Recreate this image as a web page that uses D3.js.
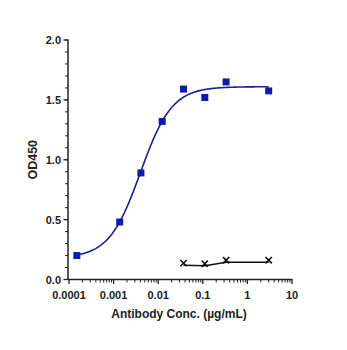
<!DOCTYPE html>
<html>
<head>
<meta charset="utf-8">
<script src="https://cdn.jsdelivr.net/npm/d3@7"></script>
<style>
  body { margin: 0; background: #fff; }
  svg { display: block; }
  text { font-family: "Liberation Sans", Arial, sans-serif; font-weight: bold; fill: #222; }
</style>
</head>
<body>
<div id="chart"></div>
<script>
// concentrations (ug/mL) and OD450 readings
var concBlue = [0.00015, 0.00137, 0.0041, 0.0123, 0.037, 0.111, 0.333, 3];
var odBlue = [0.20, 0.48, 0.89, 1.32, 1.59, 1.52, 1.65, 1.575];
var concBlack = [0.037, 0.111, 0.333, 3];
var odBlack = [0.12, 0.115, 0.145, 0.145];
// 4PL fit for the blue series: bottom, top, EC50, hill
var fitParams = [0.18, 1.61, 0.00401, 1.23];
var xTicks = [0.0001, 0.001, 0.01, 0.1, 1, 10];
var xTickLabels = ["0.0001", "0.001", "0.01", "0.1", "1", "10"];
var yTicks = [0, 0.5, 1.0, 1.5, 2.0];

var width = 347,
	height = 350,
	BLUE = "#0c1ea6",
	LINE_BLUE = "#1a1f8f";

var svg = d3.select("#chart").append("svg")
	.attr("width", width)
	.attr("height", height);

var x = d3.scaleLog().domain([0.0001, 10]).range([69, 292]);
var y = d3.scaleLinear().domain([0, 2]).range([279.5, 40]);

// axes
var xAxis = svg.append("g").attr("transform", "translate(0," + y(0) + ")");
var minor = [];
xTicks.slice(0, -1).forEach(function(t) {
	for (var k = 2; k <= 9; k++) minor.push(t * k);
});
xAxis.selectAll(".minor").data(minor).enter().append("line")
	.attr("x1", function(d) { return x(d); })
	.attr("x2", function(d) { return x(d); })
	.attr("y1", 0).attr("y2", 3)
	.style("stroke", "#222").style("stroke-width", 1);
xAxis.selectAll(".major").data(xTicks).enter().append("line")
	.attr("x1", function(d) { return x(d); })
	.attr("x2", function(d) { return x(d); })
	.attr("y1", 0).attr("y2", 4.5)
	.style("stroke", "#222").style("stroke-width", 1.3);
xAxis.append("line")
	.attr("x1", 68).attr("x2", x(10) + 0.5)
	.style("stroke", "#222").style("stroke-width", 1.5);
xAxis.selectAll("text").data(xTicks).enter().append("text")
	.attr("x", function(d) { return x(d); })
	.attr("y", 19)
	.attr("text-anchor", "middle")
	.style("font-size", "11px")
	.text(function(d, i) { return xTickLabels[i]; });

var yAxis = svg.append("g").attr("transform", "translate(68,0)");
yAxis.selectAll(".minor").data(d3.range(0, 21)).enter().append("line")
	.attr("x1", -3).attr("x2", 0)
	.attr("y1", function(d) { return y(d / 10); })
	.attr("y2", function(d) { return y(d / 10); })
	.style("stroke", "#222").style("stroke-width", 1);
yAxis.selectAll(".major").data(yTicks).enter().append("line")
	.attr("x1", -4.5).attr("x2", 0)
	.attr("y1", function(d) { return y(d); })
	.attr("y2", function(d) { return y(d); })
	.style("stroke", "#222").style("stroke-width", 1.3);
yAxis.append("line")
	.attr("y1", y(2) - 0.5).attr("y2", y(0))
	.style("stroke", "#222").style("stroke-width", 1.5);
yAxis.selectAll("text").data(yTicks).enter().append("text")
	.attr("x", -7)
	.attr("y", function(d) { return y(d) + 4; })
	.attr("text-anchor", "end")
	.style("font-size", "11px")
	.text(function(d) { return d.toFixed(1); });

// axis titles
svg.append("text")
	.attr("x", 179).attr("y", 318)
	.attr("text-anchor", "middle")
	.style("font-size", "12px")
	.text("Antibody Conc. (\u00b5g/mL)");
svg.append("text")
	.attr("transform", "translate(37," + y(1) + ") rotate(-90)")
	.attr("text-anchor", "middle")
	.style("font-size", "12.5px")
	.text("OD450");

// fitted curve
var fit = function(c) {
	return fitParams[0] + (fitParams[1] - fitParams[0]) / (1 + Math.pow(fitParams[2] / c, fitParams[3]));
};
var lo = Math.log10(concBlue[0]), hi = Math.log10(concBlue[concBlue.length - 1]);
var curve = d3.range(0, 201).map(function(i) {
	var c = Math.pow(10, lo + (hi - lo) * i / 200);
	return [c, fit(c)];
});
var line = d3.line()
	.x(function(d) { return x(d[0]); })
	.y(function(d) { return y(d[1]); });

svg.append("path")
	.attr("d", line(curve))
	.style("fill", "none")
	.style("stroke", LINE_BLUE)
	.style("stroke-width", 1.6);

svg.selectAll(".sq").data(concBlue).enter().append("rect")
	.attr("x", function(d) { return x(d) - 3.5; })
	.attr("y", function(d, i) { return y(odBlue[i]) - 3.5; })
	.attr("width", 7).attr("height", 7)
	.style("fill", BLUE);

// negative control
var blackPts = concBlack.map(function(c, i) { return [c, odBlack[i]]; });
svg.append("path")
	.attr("d", line(blackPts))
	.style("fill", "none")
	.style("stroke", "#111")
	.style("stroke-width", 1.5);

var cross = d3.symbol().type(d3.symbolX).size(28);
svg.selectAll(".x").data(blackPts).enter().append("path")
	.attr("d", cross)
	.attr("transform", function(d) { return "translate(" + x(d[0]) + "," + (y(d[1]) - 2) + ")"; })
	.style("fill", "none")
	.style("stroke", "#111")
	.style("stroke-width", 1.6);
</script>
</body>
</html>
